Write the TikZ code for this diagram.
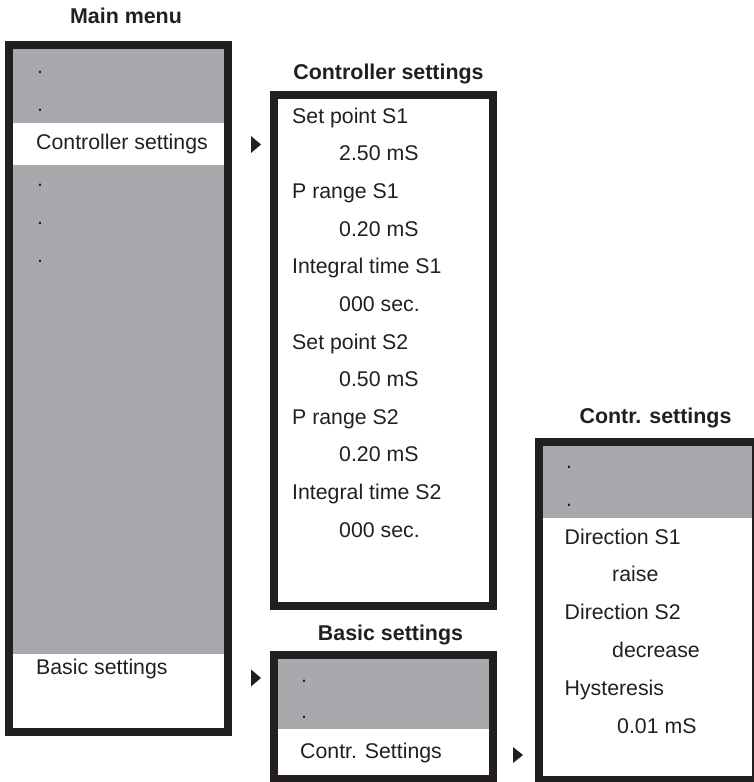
\documentclass[tikz,border=0pt]{standalone}
\usepackage{fontspec}
\setmainfont{Liberation Sans}
\usepackage{tikz}

\definecolor{menugray}{RGB}{167,169,172}
\definecolor{ink}{RGB}{35,31,32}

\tikzset{
	frame/.style={draw=ink, line width=8pt},
	band/.style={fill=menugray},
	item/.style={anchor=base west, inner sep=0pt, text=ink, font=\fontsize{21.3}{25}\selectfont},
	title/.style={anchor=base, inner sep=0pt, text=ink, font=\fontsize{21.4}{25}\selectfont\bfseries},
	pointer/.style={fill=ink}
}

\begin{document}
\begin{tikzpicture}[x=1pt, y=-1pt]
		\useasboundingbox (0,0) rectangle (754,782);
		\clip (0,0) rectangle (754,782);
		% grey bands
		\fill[band] (13,49) rectangle (224,123);
		\fill[band] (13,165) rectangle (224,654);
		\fill[band] (277,658) rectangle (489,729);
		\fill[band] (543,446) rectangle (752,518);
		% frames
		\draw[frame] (9,45) rectangle (228,732);
		\draw[frame] (274,95) rectangle (493,606);
		\draw[frame] (273.5,654.5) rectangle (493,779);
		\draw[frame] (539,441.5) rectangle (756,780);
		% pointers
		\coordinate (toCtrl) at (251,144.5);
		\coordinate (toBasic) at (251,678);
		\coordinate (toContr) at (513,755);
		\fill[pointer] (toCtrl) ++(0,-8.5) -- ++(10,8.5) -- ++(-10,8.5) -- cycle;
		\fill[pointer] (toBasic) ++(0,-8.5) -- ++(10,8.5) -- ++(-10,8.5) -- cycle;
		\fill[pointer] (toContr) ++(0,-8) -- ++(10,8) -- ++(-10,8) -- cycle;
		% titles
		\node[title] (mainTitle) at (126,23) {Main menu};
		\node[title] (ctrlTitle) at (388.5,79) {Controller settings};
		\node[title] (basicTitle) at (390.5,640) {Basic settings};
		\node[title] (contrTitle) at (655.5,423) {Contr. settings};
		% main menu
		\node[item] (mainA) at (37,73) {.};
		\node[item] (mainB) at (37,111) {.};
		\node[item] (mainCtrl) at (36,149) {Controller settings};
		\node[item] (mainC) at (37,186) {.};
		\node[item] (mainD) at (37,224) {.};
		\node[item] (mainE) at (37,262) {.};
		\node[item] (mainBasic) at (36,674) {Basic settings};
		% controller settings
		\node[item] (spOne) at (292,123) {Set point S1};
		\node[item] (spOneVal) at (339,160.6) {2.50 mS};
		\node[item] (prOne) at (292,198.3) {P range S1};
		\node[item] (prOneVal) at (339,236) {0.20 mS};
		\node[item] (itOne) at (292,273.6) {Integral time S1};
		\node[item] (itOneVal) at (339,311.3) {000 sec.};
		\node[item] (spTwo) at (292,349) {Set point S2};
		\node[item] (spTwoVal) at (339,386.6) {0.50 mS};
		\node[item] (prTwo) at (292,424.2) {P range S2};
		\node[item] (prTwoVal) at (339,461.9) {0.20 mS};
		\node[item] (itTwo) at (292,499.5) {Integral time S2};
		\node[item] (itTwoVal) at (339,537.2) {000 sec.};
		% basic settings
		\node[item] (basicA) at (301,682) {.};
		\node[item] (basicB) at (301,718) {.};
		\node[item] (basicContr) at (300,758) {Contr. Settings};
		% contr. settings
		\node[item] (contrA) at (566,468) {.};
		\node[item] (contrB) at (566,506) {.};
		\node[item] (dirOne) at (564.5,544) {Direction S1};
		\node[item] (dirOneVal) at (612,581.8) {raise};
		\node[item] (dirTwo) at (564.5,619.6) {Direction S2};
		\node[item] (dirTwoVal) at (612,657.4) {decrease};
		\node[item] (hyst) at (564.5,695.2) {Hysteresis};
		\node[item] (hystVal) at (617,733) {0.01 mS};
	\end{tikzpicture}
\end{document}
